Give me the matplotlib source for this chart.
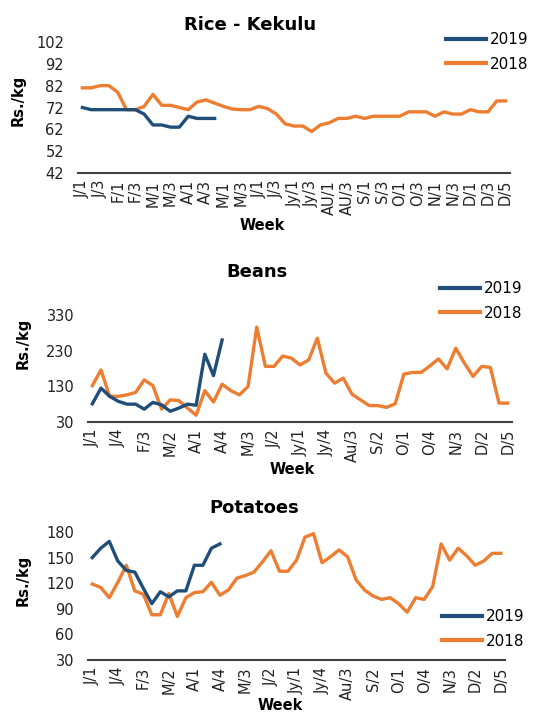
import matplotlib
matplotlib.use("Agg")
import matplotlib.pyplot as plt
from matplotlib.lines import Line2D

# ---------------- data ----------------
rice_weeks = (["J/1", "J/2", "J/3", "J/4", "F/1", "F/2", "F/3", "F/4",
               "M/1", "M/2", "M/3", "M/4", "A/1", "A/2", "A/3", "A/4",
               "M/1", "M/2", "M/3", "M/4", "J/1", "J/2", "J/3", "J/4",
               "Jy/1", "Jy/2", "Jy/3", "Jy/4", "AU/1", "AU/2", "AU/3", "AU/4",
               "S/1", "S/2", "S/3", "S/4", "O/1", "O/2", "O/3", "O/4",
               "N/1", "N/2", "N/3", "N/4", "D/1", "D/2", "D/3", "D/4", "D/5"])
weeks = (["J/1", "J/2", "J/3", "J/4", "F/1", "F/2", "F/3", "F/4",
          "M/1", "M/2", "M/3", "M/4", "A/1", "A/2", "A/3", "A/4",
          "M/1", "M/2", "M/3", "M/4", "J/1", "J/2", "J/3", "J/4",
          "Jy/1", "Jy/2", "Jy/3", "Jy/4", "Au/1", "Au/2", "Au/3", "Au/4",
          "S/1", "S/2", "S/3", "S/4", "O/1", "O/2", "O/3", "O/4",
          "N/1", "N/2", "N/3", "N/4", "D/1", "D/2", "D/3", "D/4", "D/5"])

rice_2018 = [81, 81, 82, 82, 79, 71, 71, 72.5, 78, 73, 73, 72, 71, 74.5, 75.5, 74,
             72.5, 71.3, 71, 71, 72.5, 71.5, 69, 64.5, 63.5, 63.5, 61, 64, 65, 67, 67, 68,
             67, 68, 68, 68, 68, 70, 70, 70, 68, 70, 69, 69, 71, 70, 70, 75, 75]
rice_2019 = [72, 71, 71, 71, 71, 71, 71, 69, 64, 64, 63, 63, 68, 67, 67, 67]

beans_2018 = [132, 176, 102, 102, 106, 113, 148, 132, 66, 92, 90, 69, 49, 118, 86, 136,
              118, 106, 130, 296, 186, 186, 215, 209, 190, 204, 265, 167, 139, 153, 108, 92,
              76, 76, 71, 81, 164, 169, 169, 187, 207, 179, 237, 195, 158, 186, 183, 83, 83]
beans_2019 = [81, 125, 102, 88, 80, 80, 66, 85, 78, 60, 69, 80, 77, 220, 160, 260]

potatoes_2018 = [119, 115, 103, 121, 141, 111, 107, 83, 83, 108, 81, 103, 109, 110, 121, 106,
                 112, 126, 129, 133, 145, 158, 134, 134, 147, 174, 178, 144, 151, 159, 151, 124,
                 112, 105, 101, 103, 96, 86, 103, 101, 116, 166, 147, 161, 152, 141, 146, 155, 155]
potatoes_2019 = [150, 161, 169, 146, 135, 133, 114, 96, 110, 104, 111, 111, 141, 141, 161, 166]

BLUE = "#1F4E79"
ORANGE = "#ED7D31"

W, H = 548, 713
fig = plt.figure(figsize=(W / 100, H / 100), dpi=100)


def fx(px):
    return px / W


def fy(py):
    return 1 - py / H


charts = [
    dict(title="Rice - Kekulu", labels=rice_weeks, s18=rice_2018, s19=rice_2019,
         rect=(78, 510, 42, 173), ylim=(42, 102), yticks=list(range(42, 103, 10)), step=2,
         title_xy=(250, 25), week_xy=(262, 225), ylab_xy=(18, 100), leg_xy=(446, 52)),
    dict(title="Beans", labels=weeks, s18=beans_2018, s19=beans_2019,
         rect=(88, 512, 315, 422), ylim=(30, 330), yticks=[30, 130, 230, 330], step=3,
         title_xy=(257, 272), week_xy=(292, 470), ylab_xy=(23, 343), leg_xy=(440, 301)),
    dict(title="Potatoes", labels=weeks, s18=potatoes_2018, s19=potatoes_2019,
         rect=(88, 505, 532, 660), ylim=(30, 180), yticks=list(range(30, 181, 30)), step=3,
         title_xy=(254, 508), week_xy=(280, 706), ylab_xy=(23, 580), leg_xy=(442, 629)),
]

for c in charts:
    l, r, t, b = c["rect"]
    ax = fig.add_axes([fx(l), fy(b), fx(r) - fx(l), fy(t) - fy(b)])
    n = len(c["labels"])
    x18 = list(range(len(c["s18"])))
    x19 = list(range(len(c["s19"])))
    ax.plot(x18, c["s18"], color=ORANGE, lw=2.4, solid_joinstyle="round", zorder=3)
    ax.plot(x19, c["s19"], color=BLUE, lw=2.4, solid_joinstyle="round", zorder=4)
    ax.set_xlim(-0.5, n - 0.5)
    ax.set_ylim(*c["ylim"])
    ax.set_yticks(c["yticks"])
    ax.set_yticklabels([str(v) for v in c["yticks"]], fontsize=10.5, color="#222222")
    ticks = list(range(0, n, c["step"]))
    ax.set_xticks(ticks)
    ax.set_xticklabels([c["labels"][i] for i in ticks], rotation=90, fontsize=10.5,
                       color="#222222")
    ax.tick_params(axis="x", length=0, pad=5)
    ax.tick_params(axis="y", length=0, pad=10)
    for s in ["top", "right", "left"]:
        ax.spines[s].set_visible(False)
    ax.spines["bottom"].set_color("#404040")
    ax.spines["bottom"].set_linewidth(1.5)
    ax.set_facecolor("none")
    ax.patch.set_alpha(0)

    tx, ty = c["title_xy"]
    fig.text(fx(tx), fy(ty), c["title"], ha="center", va="center", fontsize=13,
             fontweight="bold")
    wx, wy = c["week_xy"]
    fig.text(fx(wx), fy(wy), "Week", ha="center", va="center", fontsize=10.5,
             fontweight="bold")
    yx, yy = c["ylab_xy"]
    fig.text(fx(yx), fy(yy), "Rs./kg", ha="center", va="center", fontsize=10.5,
             fontweight="bold", rotation=90)

    lx, ly = c["leg_xy"]
    handles = [Line2D([], [], color=BLUE, lw=3), Line2D([], [], color=ORANGE, lw=3)]
    fig.legend(handles, ["2019", "2018"], loc="center left",
               bbox_to_anchor=(fx(lx), fy(ly)), frameon=False, fontsize=11,
               handlelength=2.6, handletextpad=0.3, labelspacing=0.6,
               borderpad=0, borderaxespad=0)

fig.savefig("out.png", dpi=100)
